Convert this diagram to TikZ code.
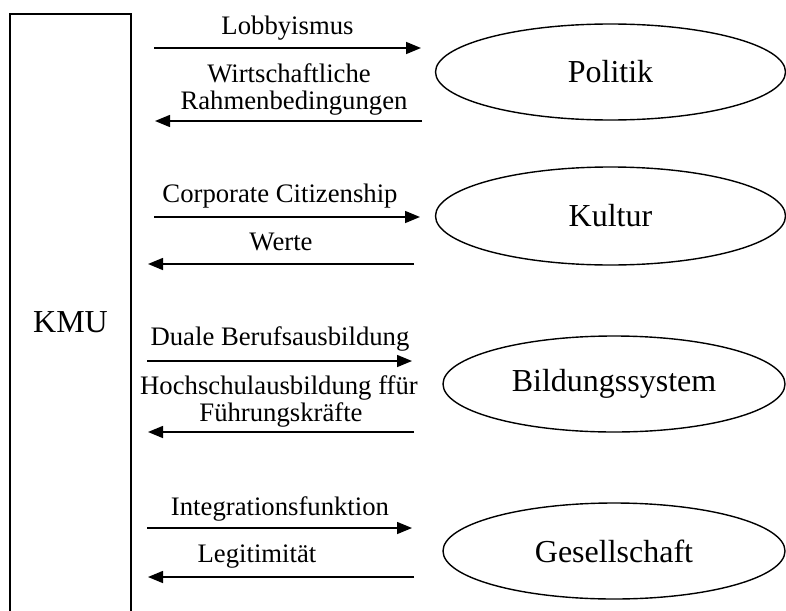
\documentclass[tikz,border=0pt]{standalone}
\usepackage{fontspec}
\setmainfont{Liberation Serif}
\usetikzlibrary{arrows.meta,shapes.geometric}

\tikzset{
  flow/.style={line width=1.5pt, -{Triangle[length=15pt,width=12pt]}},
  lbl/.style={anchor=base, inner sep=0pt, font=\fontsize{26.7}{30}\selectfont},
  area/.style={ellipse, draw, line width=1.4pt, inner sep=0pt,
    font=\fontsize{32}{36}\selectfont},
  firm/.style={rectangle, draw, line width=1.8pt, inner sep=0pt,
    font=\fontsize{32}{36}\selectfont}
}

\begin{document}
\begin{tikzpicture}[x=1pt, y=-1pt]
\useasboundingbox (0,0) rectangle (786,610);

% company block, open towards the bottom edge
\node[firm, minimum width=121pt, minimum height=616pt] (kmu) at (70.5,322) {KMU};

% environment spheres
\node[area, minimum width=350pt, minimum height=96pt] (pol) at (610.5,72) {Politik};
\node[area, minimum width=350pt, minimum height=98pt] (kul) at (610.5,216) {Kultur};
\node[area, minimum width=342pt, minimum height=96pt] (bil) at (614,384) {Bildungssystem};
\node[area, minimum width=342pt, minimum height=96pt] (ges) at (614,551) {Gesellschaft};

% arrow end points
\coordinate (p1a) at (154,48);  \coordinate (p1b) at (421,48);
\coordinate (p2a) at (422,121); \coordinate (p2b) at (155,121);
\coordinate (k1a) at (154,217); \coordinate (k1b) at (420,217);
\coordinate (k2a) at (414,264); \coordinate (k2b) at (148,264);
\coordinate (b1a) at (147,361); \coordinate (b1b) at (412,361);
\coordinate (b2a) at (414,432); \coordinate (b2b) at (148,432);
\coordinate (g1a) at (147,528); \coordinate (g1b) at (412,528);
\coordinate (g2a) at (414,577); \coordinate (g2b) at (148,577);

\draw[flow] (p1a) -- (p1b);
\draw[flow] (p2a) -- (p2b);
\draw[flow] (k1a) -- (k1b);
\draw[flow] (k2a) -- (k2b);
\draw[flow] (b1a) -- (b1b);
\draw[flow] (b2a) -- (b2b);
\draw[flow] (g1a) -- (g1b);
\draw[flow] (g2a) -- (g2b);

% arrow labels
\node[lbl] (t1)  at (287.5,35)  {Lobbyismus};
\node[lbl] (t2a) at (289,82)    {Wirtschaftliche};
\node[lbl] (t2b) at (294,109)   {Rahmenbedingungen};
\node[lbl] (t3)  at (280,202)   {Corporate Citizenship};
\node[lbl] (t4)  at (281,250)   {Werte};
\node[lbl] (t5)  at (280,345)   {Duale Berufsausbildung};
\node[lbl] (t6a) at (279,394)   {Hochschulausbildung ffür};
\node[lbl] (t6b) at (281,421)   {Führungskräfte};
\node[lbl] (t7)  at (280,515)   {Integrationsfunktion};
\node[lbl] (t8)  at (257,562)   {Legitimität};
\end{tikzpicture}
\end{document}
